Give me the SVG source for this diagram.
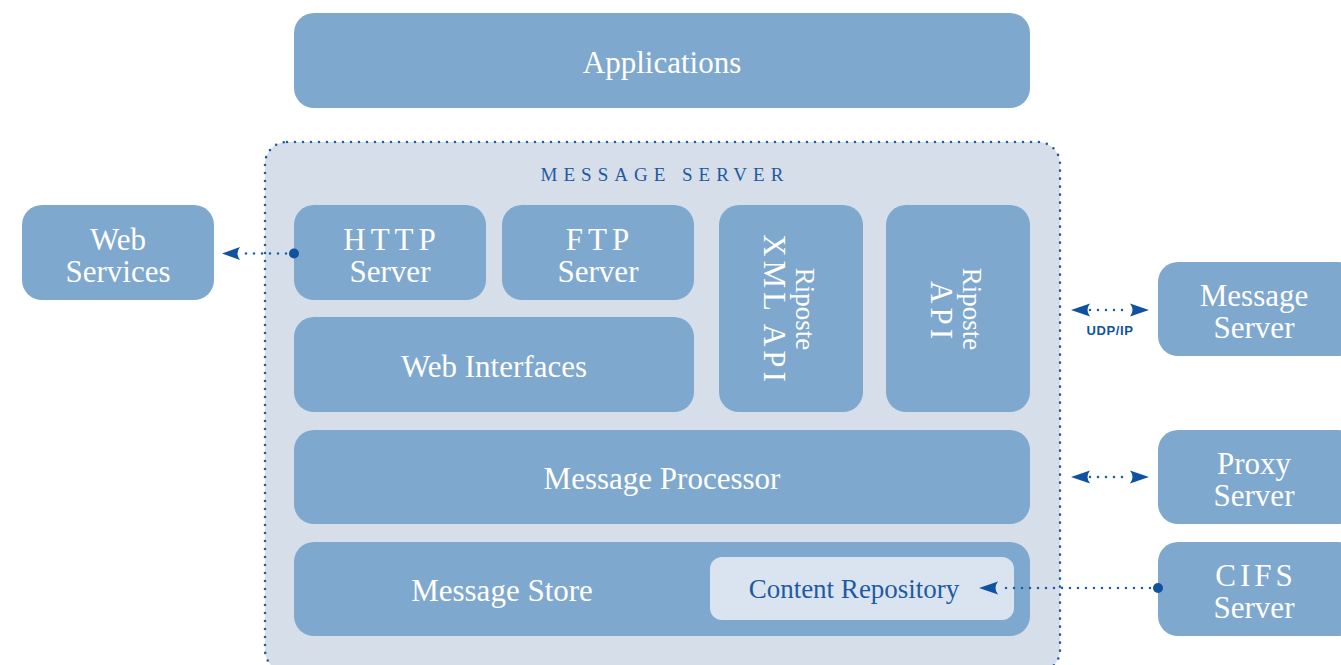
<svg xmlns="http://www.w3.org/2000/svg" width="1341" height="665" viewBox="0 0 1341 665">
<defs>
<style>
.node{fill:#7fa8ce}
.t{font-family:"Liberation Serif","DejaVu Serif",serif;fill:#ffffff;font-size:31px;text-anchor:middle}
.s{font-size:27px}
.dot{fill:none;stroke:#1f5fa6;stroke-width:2.6;stroke-linecap:round;stroke-dasharray:0 8}
.hd{fill:#0f53a0}
</style>
</defs>
<rect width="1341" height="665" fill="#ffffff"/>
<g id="applications">
<rect class="node" x="294" y="13" width="736" height="95" rx="20"/>
<text class="t" x="662" y="73">Applications</text>
</g>
<g id="message-server-container">
<rect x="265" y="142" width="795" height="530" rx="22" fill="#d6deea" stroke="#1f5fa6" stroke-width="2.6" stroke-linecap="round" stroke-dasharray="0 8"/>
<text x="665" y="181" font-family="Liberation Serif, DejaVu Serif, serif" font-size="19" letter-spacing="6" fill="#1f5aa0" text-anchor="middle">MESSAGE SERVER</text>
</g>
<g id="http-server">
<rect class="node" x="294" y="205" width="192" height="95" rx="20"/>
<text class="t" x="392" y="250" letter-spacing="5">HTTP</text>
<text class="t" x="390" y="282">Server</text>
</g>
<g id="ftp-server">
<rect class="node" x="502" y="205" width="192" height="95" rx="20"/>
<text class="t" x="600" y="250" letter-spacing="5">FTP</text>
<text class="t" x="598" y="282">Server</text>
</g>
<g id="riposte-xml-api">
<rect class="node" x="719" y="205" width="144" height="207" rx="20"/>
<text class="t s" transform="translate(796,309) rotate(90)">Riposte</text>
<text class="t" letter-spacing="4" transform="translate(764,310) rotate(90)">XML API</text>
</g>
<g id="riposte-api">
<rect class="node" x="886" y="205" width="144" height="207" rx="20"/>
<text class="t s" transform="translate(963,309) rotate(90)">Riposte</text>
<text class="t" letter-spacing="4" transform="translate(931,312) rotate(90)">API</text>
</g>
<g id="web-interfaces">
<rect class="node" x="294" y="317" width="400" height="95" rx="20"/>
<text class="t" x="494" y="377">Web Interfaces</text>
</g>
<g id="message-processor">
<rect class="node" x="294" y="430" width="736" height="94" rx="20"/>
<text class="t" x="662" y="489">Message Processor</text>
</g>
<g id="message-store">
<rect class="node" x="294" y="542" width="736" height="94" rx="20"/>
<text class="t" x="502" y="601">Message Store</text>
</g>
<g id="content-repository">
<rect x="710" y="557" width="304" height="63" rx="12" fill="#dae4f0"/>
<text class="t s" x="854" y="598" style="fill:#1f5aa0">Content Repository</text>
</g>
<g id="web-services">
<rect class="node" x="22" y="205" width="192" height="95" rx="20"/>
<text class="t" x="118" y="250">Web</text>
<text class="t" x="118" y="282">Services</text>
</g>
<g id="message-server-ext">
<rect class="node" x="1158" y="262" width="200" height="94" rx="20"/>
<text class="t" x="1254" y="306">Message</text>
<text class="t" x="1254" y="338">Server</text>
</g>
<g id="proxy-server">
<rect class="node" x="1158" y="430" width="200" height="94" rx="20"/>
<text class="t" x="1254" y="474">Proxy</text>
<text class="t" x="1254" y="506">Server</text>
</g>
<g id="cifs-server">
<rect class="node" x="1158" y="542" width="200" height="94" rx="20"/>
<text class="t" x="1256" y="586" letter-spacing="4">CIFS</text>
<text class="t" x="1254" y="618">Server</text>
</g>
<g id="connectors">
<line class="dot" x1="294" y1="253.5" x2="240" y2="253.5"/>
<path d="M222,253.5 L240,247 Q235,253.5 240,260 Z" class="hd"/>
<circle cx="294" cy="253.5" r="5" class="hd"/>
<line class="dot" x1="1090" y1="310" x2="1130" y2="310"/>
<path d="M1071,310 L1090,303.5 Q1085,310 1090,316.5 Z" class="hd"/>
<path d="M1149,310 L1130,303.5 Q1135,310 1130,316.5 Z" class="hd"/>
<text x="1110" y="335" font-family="Liberation Sans, Arial, sans-serif" font-size="13" font-weight="bold" letter-spacing="0.6" fill="#0f53a0" text-anchor="middle">UDP/IP</text>
<line class="dot" x1="1090" y1="477" x2="1130" y2="477"/>
<path d="M1071,477 L1090,470.5 Q1085,477 1090,483.5 Z" class="hd"/>
<path d="M1149,477 L1130,470.5 Q1135,477 1130,483.5 Z" class="hd"/>
<line class="dot" x1="1158" y1="588" x2="998" y2="588"/>
<path d="M979,588 L998,581.5 Q993,588 998,594.5 Z" class="hd"/>
<circle cx="1158" cy="588" r="5" class="hd"/>
</g>
</svg>
